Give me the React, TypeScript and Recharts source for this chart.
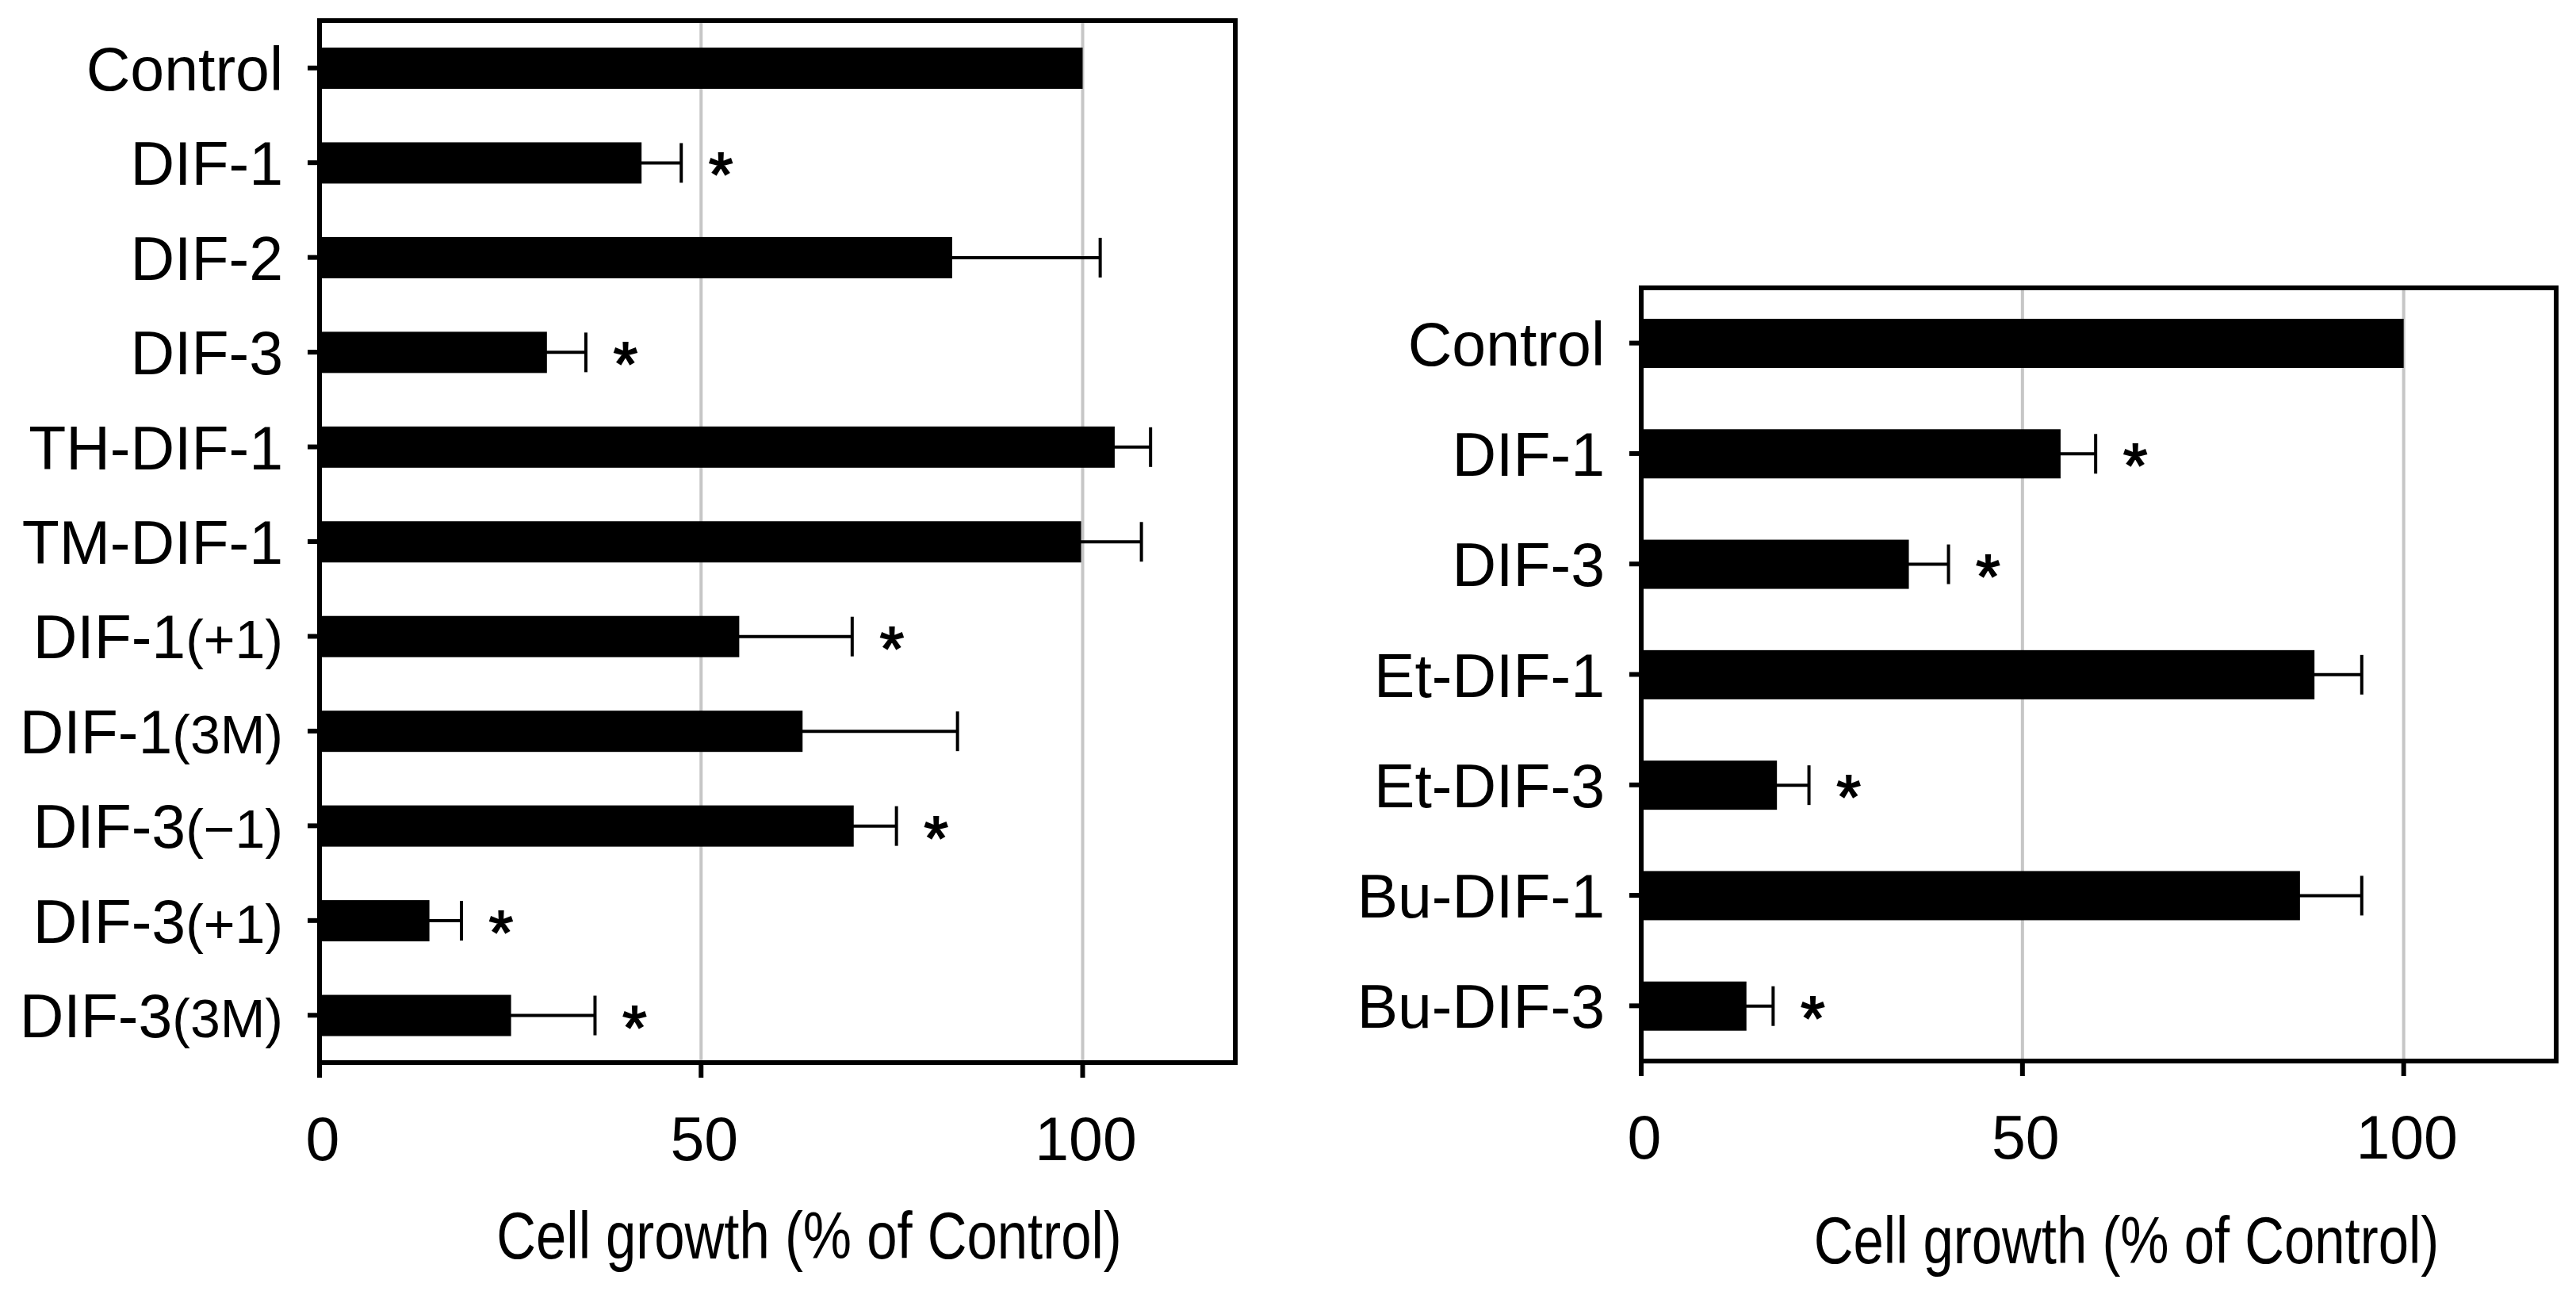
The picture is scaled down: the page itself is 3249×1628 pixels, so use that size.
import React from 'react';
import { BarChart, Bar, XAxis, YAxis, CartesianGrid, ErrorBar, Label } from 'recharts';

// left panel
const leftCategories = ['Control', 'DIF-1', 'DIF-2', 'DIF-3', 'TH-DIF-1', 'TM-DIF-1', 'DIF-1(+1)', 'DIF-1(3M)', 'DIF-3(\u22121)', 'DIF-3(+1)', 'DIF-3(3M)'];
const leftValues = [100, 42.2, 82.9, 29.8, 104.2, 99.8, 55.0, 63.3, 70.0, 14.4, 25.1];
const leftErrors = [0, 5.2, 19.4, 5.1, 4.7, 7.9, 14.8, 20.3, 5.6, 4.2, 11.0];
const leftSignificant = [false, true, false, true, false, false, true, false, true, true, true];

// right panel
const rightCategories = ['Control', 'DIF-1', 'DIF-3', 'Et-DIF-1', 'Et-DIF-3', 'Bu-DIF-1', 'Bu-DIF-3'];
const rightValues = [100, 55.0, 35.1, 88.3, 17.8, 86.4, 13.8];
const rightErrors = [0, 4.6, 5.2, 6.2, 4.2, 8.1, 3.5];
const rightSignificant = [false, true, true, false, true, false, true];

const xTicks = [0, 50, 100];
const axisTitle = 'Cell growth (% of Control)';

const FONT = '"Liberation Sans", Arial, Helvetica, sans-serif';
const frameLine = { stroke: '#000', strokeWidth: 6, strokeLinecap: 'square' as const };

const buildRows = (cats: string[], vals: number[], errs: number[], sig: boolean[]) =>
    cats.map((name, i) => ({ name, value: vals[i], err: errs[i], sig: sig[i] }));

const CategoryTick = (props: any) => {
    const { x, y, payload } = props;
    const label: string = payload.value;
    const m = label.match(/^([^(]*)(\(.*\))?$/);
    const main = m ? m[1] : label;
    const suffix = m && m[2] ? m[2] : '';
    return (
        <text x={x} y={y + 28} textAnchor="end" fontSize={77} fontFamily={FONT} fill="#000">
            {main}
            {suffix && <tspan fontSize={68}>{suffix}</tspan>}
        </text>
    );
};

const NumberTick = (props: any) => {
    const { x, y, payload } = props;
    return (
        <text x={x + 4} y={y + 55} textAnchor="middle" fontSize={77} fontFamily={FONT} fill="#000">
            {payload.value}
        </text>
    );
};

// bar plus the significance star, placed past the end of the error bar
const StarBar = (props: any) => {
    const { x, y, width, height, payload } = props;
    const errPx = payload.value ? (payload.err * width) / payload.value : 0;
    return (
        <g>
            <rect x={x} y={y} width={width} height={height} fill="#000" />
            {payload.sig && (
                <text
                    x={x + width + errPx + 50}
                    y={y + height / 2 + 42}
                    textAnchor="middle"
                    fontSize={78}
                    fontFamily={FONT}
                    fill="#000"
                    stroke="#000"
                    strokeWidth={2}
                >
                    *
                </text>
            )}
        </g>
    );
};

interface PanelProps {
    rows: { name: string; value: number; err: number; sig: boolean }[];
    width: number;
    height: number;
    axisWidth: number;
    top: number;
    right: number;
    axisHeight: number;
    barSize: number;
    titleDx: number;
    titleDy: number;
}

const Panel: React.FC<PanelProps> = ({ rows, width, height, axisWidth, top, right, axisHeight, barSize, titleDx, titleDy }) => (
    <BarChart
        width={width}
        height={height}
        data={rows}
        layout="vertical"
        margin={{ top: top - 1, right: right - 1, bottom: 0, left: 0 }}
    >
        <CartesianGrid horizontal={false} stroke="#c6c6c6" strokeWidth={4} />
        <XAxis
            type="number"
            domain={[0, 120]}
            ticks={xTicks}
            interval={0}
            height={axisHeight}
            tickSize={19}
            tickMargin={49}
            tick={<NumberTick />}
            axisLine={frameLine}
            tickLine={{ stroke: '#000', strokeWidth: 6 }}
        >
            <Label
                content={(p: any) => {
                    const vb = p.viewBox || {};
                    return (
                        <text
                            x={0}
                            y={0}
                            textAnchor="middle"
                            fontSize={84}
                            fontFamily={FONT}
                            fill="#000"
                            transform={`translate(${vb.x + vb.width / 2 + titleDx}, ${vb.y + titleDy}) scale(0.82, 1)`}
                        >
                            {axisTitle}
                        </text>
                    );
                }}
            />
        </XAxis>
        <XAxis xAxisId="top" orientation="top" type="number" domain={[0, 120]} height={1} tick={false} tickLine={false} axisLine={frameLine} />
        <YAxis
            type="category"
            dataKey="name"
            width={axisWidth}
            interval={0}
            tickSize={15}
            tickMargin={31}
            tick={<CategoryTick />}
            axisLine={frameLine}
            tickLine={{ stroke: '#000', strokeWidth: 6 }}
        />
        <YAxis yAxisId="right" orientation="right" type="category" dataKey="name" width={1} tick={false} tickLine={false} axisLine={frameLine} />
        <Bar dataKey="value" fill="#000" barSize={barSize} isAnimationActive={false} shape={<StarBar />}>
            <ErrorBar dataKey="err" direction="x" width={25} stroke="#000" strokeWidth={4} isAnimationActive={false} />
        </Bar>
    </BarChart>
);

export default function App() {
    const leftRows = buildRows(leftCategories, leftValues, leftErrors, leftSignificant);
    const rightRows = buildRows(rightCategories, rightValues, rightErrors, rightSignificant);
    return (
        <div style={{ position: 'absolute', left: 0, top: 0, width: 3249, height: 1628, background: '#fff', fontFamily: FONT }}>
            <div style={{ position: 'absolute', left: 0, top: 0 }}>
                <Panel rows={leftRows} width={1600} height={1628} axisWidth={403} top={26} right={42} axisHeight={288} barSize={52} titleDx={40} titleDy={247} />
            </div>
            <div style={{ position: 'absolute', left: 1600, top: 0 }}>
                <Panel rows={rightRows} width={1649} height={1628} axisWidth={470} top={363} right={25} axisHeight={290} barSize={62} titleDx={35} titleDy={255} />
            </div>
        </div>
    );
}
